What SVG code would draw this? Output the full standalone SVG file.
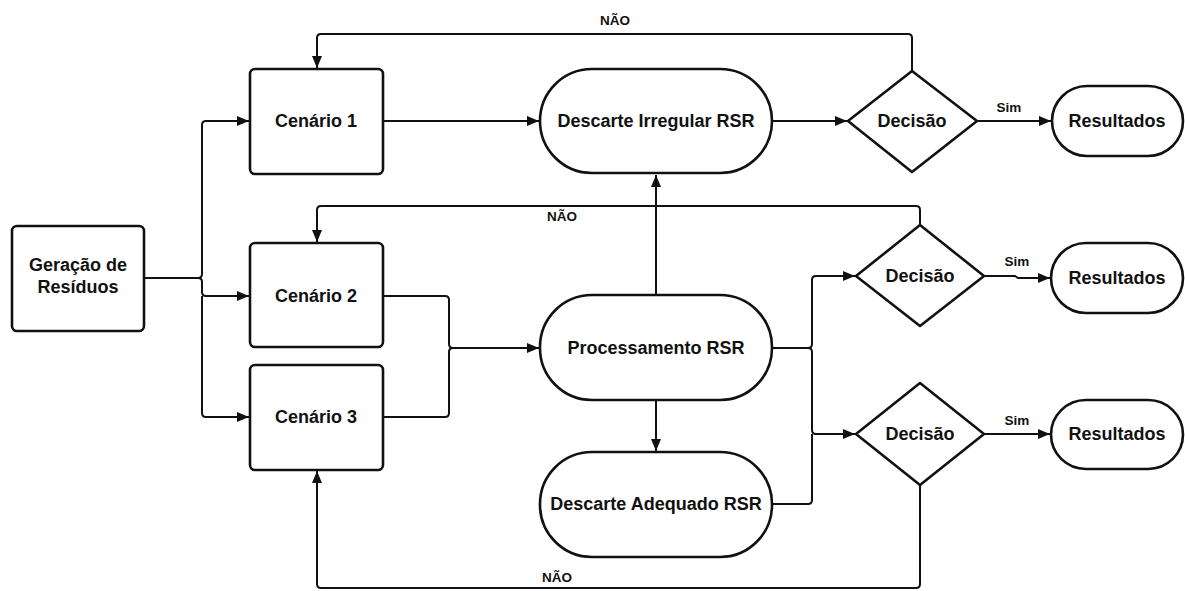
<svg xmlns="http://www.w3.org/2000/svg" width="1185" height="591" viewBox="0 0 1185 591">
<style>
.n{fill:#fff;stroke:#111;stroke-width:2.6}
.t{font-family:"Liberation Sans",Arial,sans-serif;font-weight:bold;font-size:18px;fill:#111;text-anchor:middle}
.l{font-family:"Liberation Sans",Arial,sans-serif;font-weight:bold;font-size:13.5px;fill:#111;text-anchor:middle}
.c{fill:none;stroke:#111;stroke-width:2}
</style>
<defs>
<marker id="a" viewBox="0 0 12 10" refX="12" refY="5" markerWidth="12" markerHeight="10" markerUnits="userSpaceOnUse" orient="auto">
<path d="M0,0L12,5L0,10z" fill="#111"/>
</marker>
</defs>
<rect width="1185" height="591" fill="#fff"/>
<g id="connectors">
<path class="c" marker-end="url(#a)" d="M144,278H198Q202,278 202,274V125Q202,121 206,121H249"/>
<path class="c" marker-end="url(#a)" d="M198,278Q202,278 202,282V292Q202,296 206,296H249"/>
<path class="c" marker-end="url(#a)" d="M202,296V413Q202,417 206,417H249"/>
<path class="c" marker-end="url(#a)" d="M383,121H539"/>
<path class="c" marker-end="url(#a)" d="M772,121H847"/>
<path class="c" marker-end="url(#a)" d="M977,121H1051"/>
<path class="c" marker-end="url(#a)" d="M912,70V38Q912,34 908,34H321Q317,34 317,38V68"/>
<path class="c" marker-end="url(#a)" d="M656,295V175"/>
<path class="c" marker-end="url(#a)" d="M656,400V451"/>
<path class="c" marker-end="url(#a)" d="M383,296H445Q449,296 449,300V344Q449,348 453,348H539"/>
<path class="c" d="M383,417H445Q449,417 449,413V352Q449,348 453,348"/>
<path class="c" marker-end="url(#a)" d="M772,348H808Q812,348 812,344V280Q812,276 816,276H855"/>
<path class="c" marker-end="url(#a)" d="M808,348Q812,348 812,352V430Q812,434 816,434H855"/>
<path class="c" d="M772,504H808Q812,504 812,500V434"/>
<path class="c" marker-end="url(#a)" d="M920,225V210Q920,206 916,206H321Q317,206 317,210V242"/>
<path class="c" marker-end="url(#a)" d="M984,276H1015L1018,278H1050"/>
<path class="c" marker-end="url(#a)" d="M984,434H1050"/>
<path class="c" marker-end="url(#a)" d="M920,485V584Q920,588 916,588H321Q317,588 317,584V471"/>
<text class="l" x="615" y="25">NÃO</text>
<text class="l" x="562" y="221">NÃO</text>
<text class="l" x="557" y="582">NÃO</text>
<text class="l" x="1009" y="112">Sim</text>
<text class="l" x="1017" y="266">Sim</text>
<text class="l" x="1017" y="425">Sim</text>
</g>
<g id="geracao">
<rect class="n" x="12" y="226" width="132" height="105" rx="5"/>
<text class="t" x="78" y="271">Geração de</text>
<text class="t" x="78" y="293">Resíduos</text>
</g>
<g id="cenario1">
<rect class="n" x="250" y="69" width="133" height="105" rx="5"/>
<text class="t" x="316" y="127">Cenário 1</text>
</g>
<g id="cenario2">
<rect class="n" x="250" y="243" width="133" height="104" rx="5"/>
<text class="t" x="316" y="302">Cenário 2</text>
</g>
<g id="cenario3">
<rect class="n" x="250" y="365" width="133" height="105" rx="5"/>
<text class="t" x="316" y="423">Cenário 3</text>
</g>
<g id="descarte-irregular">
<rect class="n" x="540" y="69" width="232" height="104" rx="52"/>
<text class="t" x="656" y="127">Descarte Irregular RSR</text>
</g>
<g id="processamento">
<rect class="n" x="540" y="295" width="232" height="105" rx="52"/>
<text class="t" x="656" y="354">Processamento RSR</text>
</g>
<g id="descarte-adequado">
<rect class="n" x="540" y="452" width="232" height="105" rx="52"/>
<text class="t" x="656" y="510">Descarte Adequado RSR</text>
</g>
<g id="decisao1">
<path class="n" d="M912,71L977,121L912,172L848,121Z" stroke-linejoin="round"/>
<text class="t" x="912" y="127">Decisão</text>
</g>
<g id="decisao2">
<path class="n" d="M920,225L984,276L920,326L856,276Z" stroke-linejoin="round"/>
<text class="t" x="920" y="282">Decisão</text>
</g>
<g id="decisao3">
<path class="n" d="M920,383L984,434L920,485L856,434Z" stroke-linejoin="round"/>
<text class="t" x="920" y="440">Decisão</text>
</g>
<g id="resultados1">
<rect class="n" x="1052" y="86" width="131" height="70" rx="35"/>
<text class="t" x="1117" y="127">Resultados</text>
</g>
<g id="resultados2">
<rect class="n" x="1051" y="243" width="132" height="70" rx="35"/>
<text class="t" x="1117" y="284">Resultados</text>
</g>
<g id="resultados3">
<rect class="n" x="1051" y="400" width="132" height="69" rx="35"/>
<text class="t" x="1117" y="440">Resultados</text>
</g>
</svg>
